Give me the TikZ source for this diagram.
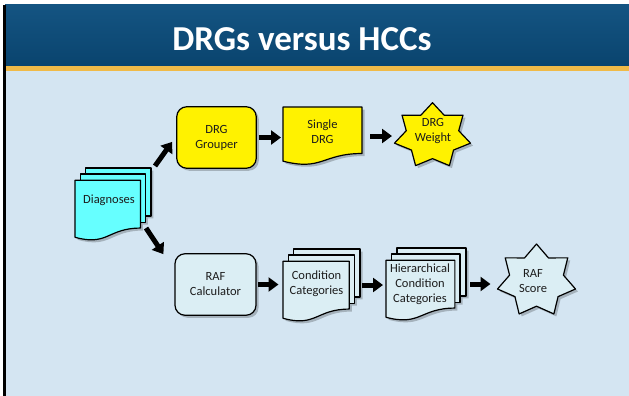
\documentclass[tikz,border=0pt]{standalone}
\usepackage{fontspec}
\setmainfont{Carlito}
\usetikzlibrary{arrows.meta,calc,shadows}

\definecolor{bgblue}{RGB}{212,229,242}
\definecolor{bartop}{RGB}{20,84,130}
\definecolor{barmid}{RGB}{18,98,150}
\definecolor{barbot}{RGB}{10,68,110}
\definecolor{barline}{RGB}{240,186,72}
\definecolor{docyan}{RGB}{102,255,255}
\definecolor{paleblue}{RGB}{219,238,244}
\definecolor{inkgray}{RGB}{28,28,28}

\tikzset{
  page/.style={draw=black, line width=1.2pt, line join=round},
  shadowfill/.style={fill=black, fill opacity=0.22, draw=none},
  frame/.style={inner sep=0pt, outer sep=0pt, draw=none},
  lbl/.style={font=\fontsize{12.5}{15}\selectfont, align=center, text=inkgray, inner sep=0pt},
  barrow/.style={line width=5pt, -{Triangle[length=10pt,width=14pt]}},
  roundbox/.style={page, lbl, rounded corners=10pt, minimum height=61.5pt,
    drop shadow={shadow xshift=2.5pt, shadow yshift=-2.5pt, fill=black, opacity=0.22}},
}

% page outlines in a 216 x 216 unit box (y downwards)
\newcommand\mdfront{(0,36.75) -- (185.95,36.75) -- (185.95,180.22) .. controls (92.98,180.22) and (92.98,235.42) .. (0,207.82) -- cycle}
\newcommand\mdmid{(15.32,18.15) -- (200,18.15) -- (200,162.5) -- (15.32,162.5) -- cycle}
\newcommand\mdback{(29.72,0) -- (216,0) -- (216,143.9) -- (29.72,143.9) -- cycle}
\newcommand\sdpage{(0,0) -- (216,0) -- (216,173.22) .. controls (108,173.22) and (108,239.22) .. (0,201.72) -- cycle}

% stacked documents: name, left, top, width, height, fill
\newcommand\multidoc[6]{%
  \begin{scope}[shift={(#2+2.5,#3+2.5)}, xscale=#4/216, yscale=#5/216]
    \fill[shadowfill] \mdback \mdmid \mdfront;
  \end{scope}
  \begin{scope}[shift={(#2,#3)}, xscale=#4/216, yscale=#5/216]
    \filldraw[page, fill=#6] \mdback;
    \filldraw[page, fill=#6] \mdmid;
    \filldraw[page, fill=#6] \mdfront;
  \end{scope}
  \node[frame, anchor=north west, minimum width=#4pt, minimum height=#5pt] (#1) at (#2,#3) {};}

% single document: name, left, top, width, height, fill
\newcommand\singledoc[6]{%
  \begin{scope}[shift={(#2+2.5,#3+2.5)}, xscale=#4/216, yscale=#5/216]
    \fill[shadowfill] \sdpage;
  \end{scope}
  \begin{scope}[shift={(#2,#3)}, xscale=#4/216, yscale=#5/216]
    \filldraw[page, fill=#6] \sdpage;
  \end{scope}
  \node[frame, anchor=north west, minimum width=#4pt, minimum height=#5pt] (#1) at (#2,#3) {};}

% seven-point star: style, centre x, centre y, radius x, radius y
\newcommand\sevenstar[5]{%
  \path[#1] plot[samples at={0,...,13}, variable=\k]
    ({#2+#4*(1-0.31*isodd(\k))*cos(90+\k*360/14)},
     {#3-#5*(1-0.31*isodd(\k))*sin(90+\k*360/14)}) -- cycle;}

\begin{document}
\begin{tikzpicture}[x=1pt,y=-1pt]
\useasboundingbox (0,0) rectangle (629,396);

% slide background and title bar
\fill[white] (0,0) rectangle (629,396);
\fill[bgblue] (5,70) rectangle (629,396);
\shade[top color=bartop, middle color=barmid, bottom color=barbot] (5,5) rectangle (629,66);
\fill[barline] (5,66) rectangle (629,71);
\fill[black] (3,5) rectangle (5.5,396);
\node[font=\fontsize{35}{40}\selectfont\bfseries, text=white] (title) at (302,39) {DRGs versus HCCs};

% upper row: DRG path
\multidoc{diag}{75}{168}{76}{72}{docyan}
\node[lbl] (diagt) at (109,200) {Diagnoses};

\node[roundbox, fill=yellow, minimum width=79.5pt] (grouper) at (216.5,137.5) {DRG\\Grouper};

\singledoc{single}{283}{107}{79}{58}{yellow}
\node[lbl] (singlet) at (322.5,132) {Single\\DRG};

\sevenstar{shadowfill}{435}{138.3}{39}{33.1}
\sevenstar{page, fill=yellow}{432.5}{135.8}{39}{33.1}
\node[frame, minimum width=76pt, minimum height=63pt] (weight) at (432.5,136.5) {};
\node[lbl] (weightt) at (433,131.5) {DRG\\Weight};

% lower row: HCC path
\node[roundbox, fill=paleblue, minimum width=81pt] (raf) at (215.5,284.5) {RAF\\Calculator};

\multidoc{cond}{283}{249}{77}{72}{paleblue}
\node[lbl] (condt) at (316.5,284) {Condition\\Categories};

\multidoc{hier}{386}{248}{80}{72}{paleblue}
\node[lbl] (hiert) at (420,284.5) {Hierarchical\\Condition\\Categories};

\sevenstar{shadowfill}{539}{283.3}{40}{36.8}
\sevenstar{page, fill=paleblue}{536.5}{280.8}{40}{36.8}
\node[frame, minimum width=78pt, minimum height=70pt] (score) at (536.5,283.5) {};
\node[lbl] (scoret) at (533,281.5) {RAF\\Score};

% connectors
\draw[barrow] ([shift={(4,-2)}]diag.north east) -- ([shift={(-4,-27)}]grouper.south west);
\draw[barrow] ([shift={(-5,-12)}]diag.south east) -- ([shift={(-11,1)}]raf.north west);
\draw[barrow, shorten <=2pt, shorten >=2pt] (grouper.east) -- (grouper.east -| single.west);
\draw[barrow, shorten <=8pt, shorten >=2.5pt] (single.east) -- (single.east -| weight.west);
\draw[barrow, shorten <=1.5pt, shorten >=4.5pt] (raf.east) -- (raf.east -| cond.west);
\draw[barrow, shorten <=2pt, shorten >=3pt] (cond.east) -- (cond.east -| hier.west);
\draw[barrow, shorten <=4pt, shorten >=7pt] (hier.east) -- (hier.east -| score.west);
\end{tikzpicture}
\end{document}
